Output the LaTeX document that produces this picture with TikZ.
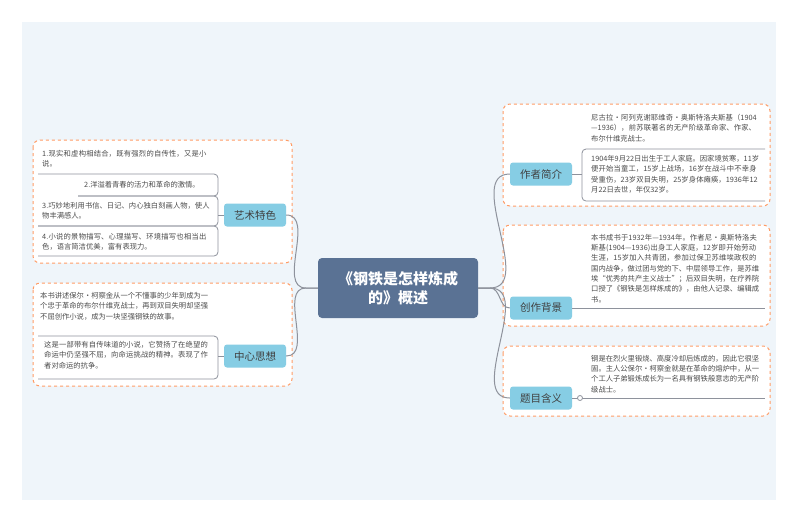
\documentclass[tikz,border=0pt]{standalone}
\usepackage{fontspec}
\setmainfont{Noto Sans CJK SC}
\XeTeXlinebreaklocale "zh"
\XeTeXlinebreakskip=0pt plus 1pt
\begin{document}
\begin{tikzpicture}[x=1pt,y=-1pt,
  grp/.style={draw=orange!70!red!60,dashed,line width=1pt,rounded corners=7pt,fill=white},
  topic/.style={fill=topicblue,rounded corners=3pt,minimum width=62pt,minimum height=23pt,font=\fontsize{10.5}{12}\selectfont,text=black!75},
  txt/.style={font=\fontsize{7.3}{10.3}\selectfont,text=black!70,align=left,anchor=north west,inner sep=0pt},
  conn/.style={draw=linegray,line width=1pt},
  brk/.style={draw=linegray,line width=0.8pt,rounded corners=4pt}]
\definecolor{topicblue}{HTML}{86CDE4}
\definecolor{linegray}{HTML}{8E929C}
\definecolor{bgblue}{HTML}{EFF5FA}
\definecolor{central}{HTML}{5A7294}
\useasboundingbox (0,0) rectangle (800,523);
\fill[white] (0,0) rectangle (800,523);
\fill[bgblue] (22,22) rectangle (776,500);
% groups
\draw[grp] (503,104) rectangle (770,206);
\draw[grp] (503,225) rectangle (770,326);
\draw[grp] (503,346) rectangle (770,416);
\draw[grp] (33,140) rectangle (292,263);
\draw[grp] (33,283) rectangle (292,386);
% central
\node[fill=central,rounded corners=4pt,minimum width=160pt,minimum height=60pt,text=white,align=center,font=\fontsize{15}{19}\selectfont\bfseries] (c) at (398,288) {《钢铁是怎样炼成\\的》概述};
\node[topic] (a) at (541,174) {作者简介};
\node[topic] (b) at (541,308) {创作背景};
\node[topic] (t) at (541,398) {题目含义};
\node[topic] (y) at (255,215) {艺术特色};
\node[topic] (z) at (255,356) {中心思想};
\draw[conn] (c.east) -- (490,288) to[out=0,in=180] (a.west);
\draw[conn] (c.east) -- (490,288) to[out=0,in=180] (b.west);
\draw[conn] (c.east) -- (490,288) to[out=0,in=180] (t.west);
\draw[conn] (c.west) -- (306,288) to[out=180,in=0] (y.east);
\draw[conn] (c.west) -- (306,288) to[out=180,in=0] (z.east);
% author texts
\node[txt,text width=168pt] (a1) at (591,114) {尼古拉·阿列克谢耶维奇·奥斯特洛夫斯基（1904—1936），前苏联著名的无产阶级革命家、作家、布尔什维克战士。};
\node[txt,text width=168pt] (a2) at (591,155) {1904年9月22日出生于工人家庭。因家境贫寒，11岁便开始当童工，15岁上战场，16岁在战斗中不幸身受重伤，23岁双目失明，25岁身体瘫痪，1936年12月22日去世，年仅32岁。};
\draw[conn] (a.east) -- (582,174);
\draw[brk] (765,149) -- (582,149) -- (582,201) -- (765,201);
\node[txt,text width=168pt] (b1) at (591,234) {本书成书于1932年—1934年。作者尼·奥斯特洛夫斯基(1904—1936)出身工人家庭，12岁即开始劳动生涯，15岁加入共青团，参加过保卫苏维埃政权的国内战争，做过团与党的下、中层领导工作，是苏维埃“优秀的共产主义战士”；后双目失明，在疗养院口授了《钢铁是怎样炼成的》，由他人记录、编辑成书。};
\draw[conn] (b.east) -- (765,308);
\node[txt,text width=168pt] (t1) at (591,355) {钢是在烈火里锻烧、高度冷却后炼成的，因此它很坚固。主人公保尔·柯察金就是在革命的熔炉中，从一个工人子弟锻炼成长为一名具有钢铁般意志的无产阶级战士。};
\draw[conn] (t.east) -- (765,398);
\draw[linegray,fill=white,line width=0.8pt] (580,398) circle (2.5pt);
\node[txt,text width=168pt] (y1) at (42,150) {1.现实和虚构相结合，既有强烈的自传性，又是小说。};
\draw[brk] (38,174) -- (218,174) -- (218,196) -- (78,196);
\node[txt] (y2) at (84,181) {2.洋溢着青春的活力和革命的激情。};
\draw[brk] (78,196) -- (218,196) -- (218,226) -- (38,226);
\node[txt,text width=168pt] (y3) at (42,202) {3.巧妙地利用书信、日记、内心独白刻画人物，使人物丰满感人。};
\node[txt,text width=168pt] (y4) at (42,233) {4.小说的景物描写、心理描写、环境描写也相当出色，语言简洁优美，富有表现力。};
\draw[brk] (38,226) -- (218,226) -- (218,256) -- (38,256);
\draw[conn] (y.west) -- (218,215);
\node[txt,text width=168pt] (z1) at (40,292) {本书讲述保尔·柯察金从一个不懂事的少年到成为一个忠于革命的布尔什维克战士，再到双目失明却坚强不屈创作小说，成为一块坚强钢铁的故事。};
\draw[brk] (38,336) -- (218,336) -- (218,379) -- (38,379);
\node[txt,text width=166pt] (z2) at (44,341) {这是一部带有自传味道的小说，它赞扬了在绝望的命运中仍坚强不屈，向命运挑战的精神。表现了作者对命运的抗争。};
\draw[conn] (z.west) -- (218,356);
\end{tikzpicture}
\end{document}
